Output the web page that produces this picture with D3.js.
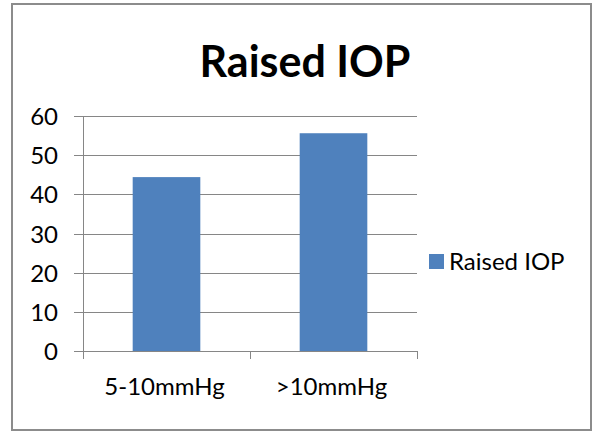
<!DOCTYPE html>
<html>
<head>
<meta charset="utf-8">
<script src="https://cdn.jsdelivr.net/npm/d3@7"></script>
<style>
  html, body { margin: 0; padding: 0; background: #fff; }
  svg { display: block; }
  text { font-family: Lato, "Open Sans", "DejaVu Sans", sans-serif; fill: #000; }
</style>
</head>
<body>
<svg id="chart" width="595" height="432"></svg>
<script>
// Chart data
const categories = ["5-10mmHg", ">10mmHg"];
const seriesName = "Raised IOP";
const values = [44.4, 55.6];
const yTicks = [0, 10, 20, 30, 40, 50, 60];
const chartTitle = "Raised IOP";

const svg = d3.select("#chart");

// Outer frame of the chart area
svg.append("rect")
  .attr("x", 12).attr("y", 4)
  .attr("width", 579).attr("height", 426)
  .attr("fill", "#fff")
  .attr("stroke", "#8c8c8c")
  .attr("stroke-width", 2);

const plot = { left: 83, right: 417, top: 116, bottom: 351 };

const x = d3.scaleBand()
  .domain(categories)
  .range([plot.left, plot.right])
  .paddingInner(0.595)
  .paddingOuter(0.2975);

const y = d3.scaleLinear()
  .domain([0, 60])
  .range([plot.bottom, plot.top]);

// Horizontal gridlines with left tick marks
const yAxis = d3.axisLeft(y)
  .tickValues(yTicks)
  .tickSize(-(plot.right - plot.left))
  .tickSizeOuter(0)
  .tickPadding(25)
  .tickFormat(d3.format("d"));

const gy = svg.append("g")
  .attr("transform", `translate(${plot.left},0)`)
  .call(yAxis);
gy.select(".domain").remove();
gy.selectAll(".tick line")
  .attr("x1", -9)
  .attr("stroke", "#868686")
  .attr("stroke-width", 1)
  .attr("shape-rendering", "crispEdges");
gy.selectAll(".tick text")
  .attr("font-size", 24)
  .attr("dy", "0.36em")
  .attr("fill", "#000")
  .style("font-family", "Lato, 'Open Sans', sans-serif");

// Bars
svg.append("g")
  .selectAll("rect")
  .data(values)
  .join("rect")
  .attr("x", (d, i) => x(categories[i]))
  .attr("y", d => y(d))
  .attr("width", x.bandwidth())
  .attr("height", d => y(0) - y(d))
  .attr("fill", "#4f81bd");

// Vertical axis line
svg.append("line")
  .attr("x1", plot.left).attr("x2", plot.left)
  .attr("y1", plot.top).attr("y2", plot.bottom + 8)
  .attr("stroke", "#868686")
  .attr("shape-rendering", "crispEdges");

// Category axis: baseline, boundary ticks, labels
const catEdges = [plot.left, (plot.left + plot.right) / 2, plot.right];
svg.append("line")
  .attr("x1", plot.left - 9).attr("x2", plot.right)
  .attr("y1", plot.bottom).attr("y2", plot.bottom)
  .attr("stroke", "#868686")
  .attr("shape-rendering", "crispEdges");
svg.append("g")
  .selectAll("line")
  .data(catEdges)
  .join("line")
  .attr("x1", d => d).attr("x2", d => d)
  .attr("y1", plot.bottom).attr("y2", plot.bottom + 8)
  .attr("stroke", "#868686")
  .attr("shape-rendering", "crispEdges");

svg.append("g")
  .selectAll("text")
  .data(categories)
  .join("text")
  .attr("x", d => x(d) + x.bandwidth() / 2 - 2)
  .attr("y", 395)
  .attr("text-anchor", "middle")
  .attr("font-size", 24)
  .text(d => d);

// Title
svg.append("text")
  .attr("x", 305)
  .attr("y", 77)
  .attr("text-anchor", "middle")
  .attr("font-size", 43)
  .attr("font-weight", "bold")
  .text(chartTitle);

// Legend
const legend = svg.append("g").attr("transform", "translate(429,254)");
legend.append("rect")
  .attr("x", 0).attr("y", 0)
  .attr("width", 15).attr("height", 15)
  .attr("fill", "#4f81bd");
legend.append("text")
  .attr("x", 20).attr("y", 16)
  .attr("font-size", 24)
  .text(seriesName);
</script>
</body>
</html>
